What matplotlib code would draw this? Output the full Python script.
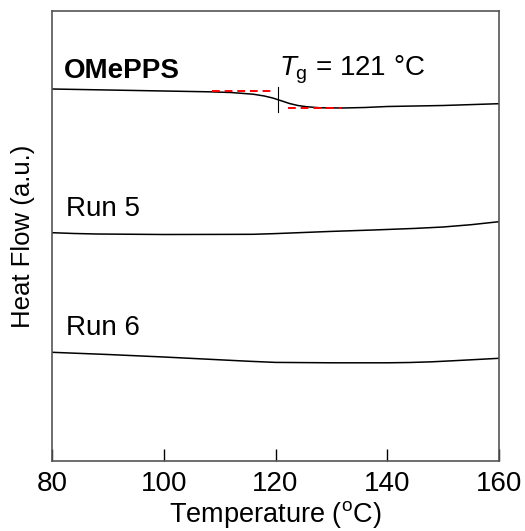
import matplotlib
matplotlib.use("Agg")
import matplotlib.pyplot as plt
import numpy as np

plt.rcParams['font.family'] = ['Liberation Sans', 'DejaVu Sans']
plt.rcParams['mathtext.fontset'] = 'custom'
plt.rcParams['mathtext.rm'] = 'Liberation Sans'
plt.rcParams['mathtext.it'] = 'Liberation Sans:italic'

# Temperatures (°C) and heat flow (arbitrary units, offset traces)
t_ome = [80, 90, 100, 108, 112, 116, 118, 119.5, 121, 122.5, 124, 125.5, 128, 132, 136, 140, 150, 160]
hf_ome = [372, 371, 370, 369.2, 368.5, 366.8, 365, 363, 360.3, 357.5, 355.5, 354.3, 353.2, 353, 353.5, 354.5, 355.5, 357.3]

t_run5 = [80, 84, 88, 100, 110, 116, 120, 125, 130, 137.5, 145, 150, 155, 160]
hf_run5 = [228.3, 227.5, 227, 226.5, 226.6, 226.7, 227.4, 228.5, 229.6, 231, 232.6, 234, 236.3, 239.3]

t_run6 = [80, 90, 100, 110, 115, 120, 130, 140, 144, 148, 152, 156, 160]
hf_run6 = [108.7, 106.5, 104, 101.2, 99.8, 98.6, 98.2, 98.2, 98.5, 99.2, 100.3, 101.5, 102.7]

# Tangent construction lines for Tg
tan_upper_t = [108.6, 119.3]
tan_upper_hf = [369.7, 369.7]
tan_lower_t = [122.2, 131.8]
tan_lower_hf = [352.7, 352.7]
tg_value = 120.5
tg_marker_hf = [349.3, 374]

xticks = [80, 100, 120, 140, 160]

fig = plt.figure(figsize=(5.25, 5.31), dpi=100)
ax = fig.add_axes([52/525, (531-461)/531, (499-52)/525, (461-11)/531])

ax.plot(t_ome, hf_ome, color='black', lw=1.1)
ax.plot(t_run5, hf_run5, color='black', lw=1.1)
ax.plot(t_run6, hf_run6, color='black', lw=1.1)
ax.plot(tan_upper_t, tan_upper_hf, color='red', lw=1.4, ls=(0, (4, 2.5)))
ax.plot(tan_lower_t, tan_lower_hf, color='red', lw=1.4, ls=(0, (4, 2.5)))
ax.plot([tg_value, tg_value], tg_marker_hf, color='black', lw=0.8)

ax.text(82.2, 383, 'OMePPS', fontsize=20, fontweight='bold', ha='left', va='baseline')
ax.text(120.7, 386, r'$\mathit{T}_{\mathrm{g}}$ = 121 °C', fontsize=20, ha='left', va='baseline')
ax.text(82.5, 245, 'Run 5', fontsize=20, ha='left', va='baseline')
ax.text(82.5, 126, 'Run 6', fontsize=20, ha='left', va='baseline')

ax.set_xlim(80, 160)
ax.set_ylim(0, 450)
ax.set_xticks(xticks)
ax.set_xticklabels([str(v) for v in xticks])
ax.set_yticks([])
ax.tick_params(axis='x', direction='in', length=9, width=1, labelsize=20, pad=7)
for s in ax.spines.values():
    s.set_color('#555555')
    s.set_linewidth(1.2)

ax.set_xlabel('Temperature ($^{\\mathrm{o}}$C)', fontsize=19.5, labelpad=2)
ax.set_ylabel('Heat Flow (a.u.)', fontsize=18.5, labelpad=12)

fig.savefig('out.png', dpi=100)
